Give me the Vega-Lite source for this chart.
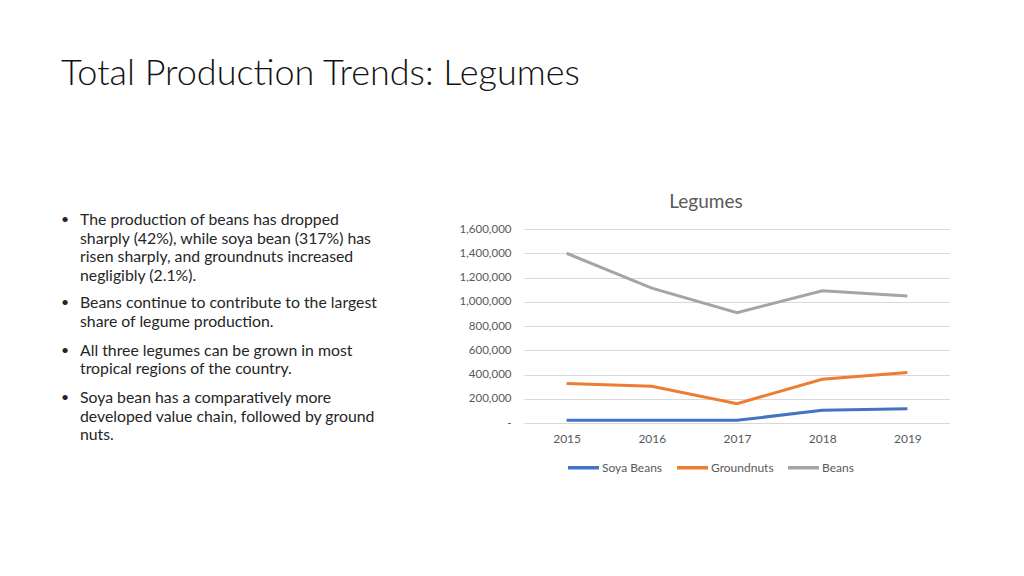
{
  "$schema": "https://vega.github.io/schema/vega-lite/v6.json",
  "autosize": {"type": "pad"},
  "padding": {"left": 61, "top": 56, "right": 0, "bottom": 0},
  "background": "#ffffff",
  "config": {"view": {"stroke": null}, "font": "Lato"},
  "title": {"text": "Total Production Trends: Legumes", "anchor": "start", "fontSize": 36, "font": "Lato", "fontWeight": 300, "color": "#111111", "offset": 100},
  "bounds": "flush",
  "center": true,
  "spacing": 83,
  "resolve": {"legend": {"color": "independent"}, "scale": {"color": "independent", "y": "independent", "x": "independent"}},
  "hconcat": [
    {
      "width": 380,
      "height": 226,
      "data": {"values": [
        {"slot": "p1", "text": "The production of beans has dropped\nsharply (42%), while soya bean (317%) has\nrisen sharply, and groundnuts increased\nnegligibly (2.1%)."},
        {"slot": "p2", "text": "Beans continue to contribute to the largest\nshare of legume production."},
        {"slot": "p3", "text": "All three legumes can be grown in most\ntropical regions of the country."},
        {"slot": "p4", "text": "Soya bean has a comparatively more\ndeveloped value chain, followed by ground\nnuts."}
      ]},
      "encoding": {
        "x": {"value": 0},
        "y": {"field": "slot", "type": "nominal", "axis": null,
              "scale": {"type": "point", "domain": ["p1","a","b","c","d","e","f","p2","g","h","i","p3","j","k","l","p4","m","n","o","q"], "padding": 0}}
      },
      "layer": [
        {"mark": {"type": "text", "text": "•", "align": "left", "baseline": "top", "font": "Lato", "fontSize": 14, "color": "#262626"}},
        {"mark": {"type": "text", "align": "left", "baseline": "top", "dx": 19, "lineBreak": "\n", "lineHeight": 18.5, "font": "Lato", "fontSize": 15.8, "color": "#262626"},
         "encoding": {"text": {"field": "text", "type": "nominal"}}}
      ]
    },
    {
      "width": 426,
      "height": 194,
      "title": {"text": "Legumes", "fontSize": 19, "font": "Lato", "fontWeight": "normal", "color": "#595959", "offset": 11, "dx": -31},
      "data": {"values": [
        {"year": 2015, "crop": "Soya Beans", "production": 22000},
        {"year": 2016, "crop": "Soya Beans", "production": 22000},
        {"year": 2017, "crop": "Soya Beans", "production": 22000},
        {"year": 2018, "crop": "Soya Beans", "production": 105000},
        {"year": 2019, "crop": "Soya Beans", "production": 118000},
        {"year": 2015, "crop": "Groundnuts", "production": 325000},
        {"year": 2016, "crop": "Groundnuts", "production": 303000},
        {"year": 2017, "crop": "Groundnuts", "production": 160000},
        {"year": 2018, "crop": "Groundnuts", "production": 361000},
        {"year": 2019, "crop": "Groundnuts", "production": 417000},
        {"year": 2015, "crop": "Beans", "production": 1400000},
        {"year": 2016, "crop": "Beans", "production": 1112000},
        {"year": 2017, "crop": "Beans", "production": 910000},
        {"year": 2018, "crop": "Beans", "production": 1090000},
        {"year": 2019, "crop": "Beans", "production": 1048000}
      ]},
      "mark": {"type": "line", "strokeWidth": 3},
      "encoding": {
        "x": {"field": "year", "type": "ordinal", "scale": {"type": "point", "padding": 0.5},
              "axis": {"title": null, "labelAngle": 0, "ticks": false, "domain": false, "labelPadding": 10, "labelFontSize": 12, "labelColor": "#595959", "labelFont": "Lato"}},
        "y": {"field": "production", "type": "quantitative", "scale": {"domain": [0, 1600000]},
              "axis": {"title": null, "values": [0, 200000, 400000, 600000, 800000, 1000000, 1200000, 1400000, 1600000],
                       "labelExpr": "datum.value == 0 ? '-\u00a0\u00a0\u00a0' : format(datum.value, ',')",
                       "domain": false, "ticks": false, "labelPadding": 13, "labelFontSize": 11.5, "labelColor": "#595959", "labelFont": "Lato",
                       "gridColor": "#d9d9d9", "gridWidth": 1}},
        "color": {"field": "crop", "type": "nominal",
                  "scale": {"domain": ["Soya Beans", "Groundnuts", "Beans"], "range": ["#4472C4", "#ED7D31", "#A5A5A5"]},
                  "legend": {"orient": "none", "legendX": 42, "legendY": 221, "direction": "horizontal", "title": null, "symbolType": "stroke", "symbolSize": 960, "symbolStrokeWidth": 3.5,
                             "labelFont": "Lato", "labelFontSize": 12, "labelColor": "#595959", "labelOffset": 1, "columnPadding": 7, "padding": 0}}
      }
    }
  ]
}
